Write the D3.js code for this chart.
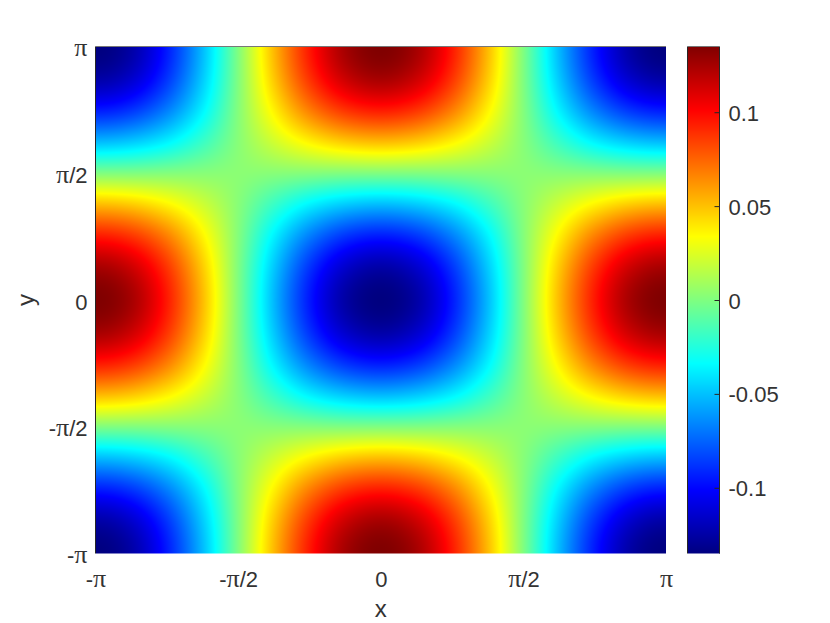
<!DOCTYPE html>
<html>
<head>
<meta charset="utf-8">
<script src="https://cdn.jsdelivr.net/npm/d3@7"></script>
<style>
	html, body { margin: 0; padding: 0; background: #fff; }
	svg { display: block; }
	text { font-family: "Liberation Sans", Arial, sans-serif; fill: #333; }
	.pi { font-family: "Liberation Serif", serif; font-size: 26px; }
</style>
</head>
<body>
<svg id="chart" width="830" height="623"></svg>
<script>
// grid positions, in units of pi
const gridSteps = [-1, -0.875, -0.75, -0.625, -0.5, -0.375, -0.25, -0.125, 0, 0.125, 0.25, 0.375, 0.5, 0.625, 0.75, 0.875, 1]

// values, top row is y = pi, left column is x = -pi
const gridValues = [
	[-.135, -.125, -.095, -.052, .000, .052, .095, .125, .135, .125, .095, .052, .000, -.052, -.095, -.125, -.135],
	[-.125, -.115, -.088, -.048, .000, .048, .088, .115, .125, .115, .088, .048, .000, -.048, -.088, -.115, -.125],
	[-.095, -.088, -.068, -.037, .001, .037, .068, .088, .095, .088, .068, .037, .001, -.037, -.068, -.088, -.095],
	[-.052, -.048, -.037, -.019, .002, .021, .037, .048, .052, .048, .037, .021, .002, -.019, -.037, -.048, -.052],
	[.000, .000, .001, .002, .003, .002, .001, .000, .000, .000, .001, .002, .003, .002, .001, .000, .000],
	[.052, .048, .037, .021, .002, -.019, -.037, -.048, -.052, -.048, -.037, -.019, .002, .021, .037, .048, .052],
	[.095, .088, .068, .037, .001, -.037, -.068, -.088, -.095, -.088, -.068, -.037, .001, .037, .068, .088, .095],
	[.125, .115, .088, .048, .000, -.048, -.088, -.115, -.125, -.115, -.088, -.048, .000, .048, .088, .115, .125],
	[.135, .125, .095, .052, .000, -.052, -.095, -.125, -.135, -.125, -.095, -.052, .000, .052, .095, .125, .135],
	[.125, .115, .088, .048, .000, -.048, -.088, -.115, -.125, -.115, -.088, -.048, .000, .048, .088, .115, .125],
	[.095, .088, .068, .037, .001, -.037, -.068, -.088, -.095, -.088, -.068, -.037, .001, .037, .068, .088, .095],
	[.052, .048, .037, .021, .002, -.019, -.037, -.048, -.052, -.048, -.037, -.019, .002, .021, .037, .048, .052],
	[.000, .000, .001, .002, .003, .002, .001, .000, .000, .000, .001, .002, .003, .002, .001, .000, .000],
	[-.052, -.048, -.037, -.019, .002, .021, .037, .048, .052, .048, .037, .021, .002, -.019, -.037, -.048, -.052],
	[-.095, -.088, -.068, -.037, .001, .037, .068, .088, .095, .088, .068, .037, .001, -.037, -.068, -.088, -.095],
	[-.125, -.115, -.088, -.048, .000, .048, .088, .115, .125, .115, .088, .048, .000, -.048, -.088, -.115, -.125],
	[-.135, -.125, -.095, -.052, .000, .052, .095, .125, .135, .125, .095, .052, .000, -.052, -.095, -.125, -.135],
]

const piTicks = [-1, -0.5, 0, 0.5, 1]
const piTickLabels = ['-π', '-π/2', '0', 'π/2', 'π']
const colorTicks = [-0.1, -0.05, 0, 0.05, 0.1]
const colorTickLabels = ['-0.1', '-0.05', '0', '0.05', '0.1']
const colorRange = [-0.135, 0.135]

// jet colormap
const jetStops = [0, 1 / 8, 3 / 8, 5 / 8, 7 / 8, 1]
const jetColors = ['#000080', '#0000ff', '#00ffff', '#ffff00', '#ff0000', '#800000']

const svg = d3.select('#chart')

const plot = { left: 95.5, right: 666, top: 46.5, bottom: 553.5 }
const bar = { left: 687.5, right: 719.5, top: 46.5, bottom: 553.5 }

const xScale = d3.scaleLinear().domain([-1, 1]).range([plot.left, plot.right])
const yScale = d3.scaleLinear().domain([-1, 1]).range([plot.bottom, plot.top])
const barScale = d3.scaleLinear().domain(colorRange).range([bar.bottom, bar.top])
const colorScale = d3.scaleLinear()
	.domain(jetStops.map(t => colorRange[0] + t * (colorRange[1] - colorRange[0])))
	.range(jetColors)
	.clamp(true)

// smooth shading between the grid values, like shading interp
function catmull(a, b, c, d, t) {
	return 0.5 * (2 * b + (c - a) * t + (2 * a - 5 * b + 4 * c - d) * t * t + (3 * b - a - 3 * c + d) * t * t * t)
}

function reflect(i) {
	let n = gridSteps.length - 1
	if (i < 0) return -i
	if (i > n) return 2 * n - i
	return i
}

function shade(gx, gy) {
	let i = Math.min(Math.floor(gx), gridSteps.length - 2)
	let j = Math.min(Math.floor(gy), gridSteps.length - 2)
	let col = [-1, 0, 1, 2].map(dj => {
		let row = gridValues[reflect(j + dj)]
		return catmull(row[reflect(i - 1)], row[i], row[i + 1], row[reflect(i + 2)], gx - i)
	})
	return catmull(col[0], col[1], col[2], col[3], gy - j)
}

function drawHeatmap() {
	let x0 = Math.round(plot.left)
	let y0 = Math.round(plot.top)
	let w = Math.round(plot.right) - x0
	let h = Math.round(plot.bottom) - y0
	let canvas = document.createElement('canvas')
	canvas.width = w
	canvas.height = h
	let ctx = canvas.getContext('2d')
	let img = ctx.createImageData(w, h)
	let n = gridSteps.length - 1
	let gridX = d3.scaleLinear().domain([-1, 1]).range([0, n]).clamp(true)
	let gridY = d3.scaleLinear().domain([1, -1]).range([0, n]).clamp(true)
	for (let py = 0; py < h; py++) {
		let gy = gridY(yScale.invert(y0 + py + 0.5))
		for (let px = 0; px < w; px++) {
			let gx = gridX(xScale.invert(x0 + px + 0.5))
			let c = d3.rgb(colorScale(shade(gx, gy)))
			let k = (py * w + px) * 4
			img.data[k] = c.r
			img.data[k + 1] = c.g
			img.data[k + 2] = c.b
			// the last row fades into the page as in the reference
			img.data[k + 3] = py === h - 1 ? 128 : 255
		}
	}
	ctx.putImageData(img, 0, 0)
	svg.append('image')
		.attr('x', x0).attr('y', y0)
		.attr('width', w).attr('height', h)
		.attr('href', canvas.toDataURL())
}

function drawPlotFrame() {
	svg.append('line')
		.attr('x1', plot.left).attr('x2', plot.left)
		.attr('y1', plot.top).attr('y2', plot.bottom)
		.attr('stroke', '#262626')
	svg.append('line')
		.attr('x1', plot.left).attr('x2', plot.right)
		.attr('y1', plot.top).attr('y2', plot.top)
		.attr('stroke', '#777')
}

// pi is set in a serif face, the rest of the label stays sans
function writePiLabel(sel) {
	sel.each(function () {
		let text = d3.select(this)
		let parts = text.text().split(/(π)/).filter(p => p.length)
		text.text(null)
		parts.forEach(p => {
			text.append('tspan').attr('class', p === 'π' ? 'pi' : null).text(p)
		})
	})
}

function drawAxes() {
	let bottomAxis = d3.axisBottom(xScale)
		.tickValues(piTicks)
		.tickSize(0)
		.tickPadding(18)
		.tickFormat((d, i) => piTickLabels[i])
	let bottomG = svg.append('g')
		.attr('transform', `translate(0, ${plot.bottom})`)
		.call(bottomAxis)
	bottomG.select('.domain').remove()
	bottomG.selectAll('text')
		.style('font-size', '22px')
		.call(writePiLabel)

	let leftAxis = d3.axisLeft(yScale)
		.tickValues(piTicks)
		.tickSize(0)
		.tickPadding(8)
		.tickFormat((d, i) => piTickLabels[i])
	let leftG = svg.append('g')
		.attr('transform', `translate(${plot.left}, 2)`)
		.call(leftAxis)
	leftG.select('.domain').remove()
	leftG.selectAll('text')
		.style('font-size', '22px')
		.call(writePiLabel)

	svg.append('text')
		.attr('x', (plot.left + plot.right) / 2)
		.attr('y', 617)
		.attr('text-anchor', 'middle')
		.style('font-size', '24px')
		.text('x')
	svg.append('text')
		.attr('transform', `translate(34, ${(plot.top + plot.bottom) / 2}) rotate(-90)`)
		.attr('text-anchor', 'middle')
		.style('font-size', '24px')
		.text('y')
}

function drawColorbar() {
	let levels = d3.range(Math.ceil(bar.top), Math.ceil(bar.bottom))
	svg.append('g').selectAll('rect')
		.data(levels)
		.join('rect')
		.attr('x', Math.ceil(bar.left))
		.attr('y', d => d)
		.attr('width', bar.right - bar.left)
		.attr('height', 1)
		.attr('fill', d => colorScale(barScale.invert(d + 0.5)))
		.attr('opacity', (d, i) => i === levels.length - 1 ? 0.5 : 1)

	let axis = d3.axisRight(barScale)
		.tickValues(colorTicks)
		.tickSizeInner(-5)
		.tickSizeOuter(0)
		.tickPadding(9)
		.tickFormat((d, i) => colorTickLabels[i])
	let g = svg.append('g')
		.attr('transform', `translate(${bar.right}, 0)`)
		.call(axis)
	g.select('.domain').remove()
	g.selectAll('line').attr('stroke', '#262626')
	g.selectAll('text')
		.style('font-size', '22px')
		.attr('transform', 'translate(0, 1)')

	;[bar.left, bar.right].forEach(x => {
		svg.append('line')
			.attr('x1', x).attr('x2', x)
			.attr('y1', bar.top).attr('y2', bar.bottom)
			.attr('stroke', '#262626')
	})
	svg.append('line')
		.attr('x1', bar.left).attr('x2', bar.right)
		.attr('y1', bar.top).attr('y2', bar.top)
		.attr('stroke', '#777')
}

drawHeatmap()
drawPlotFrame()
drawAxes()
drawColorbar()
</script>
</body>
</html>
